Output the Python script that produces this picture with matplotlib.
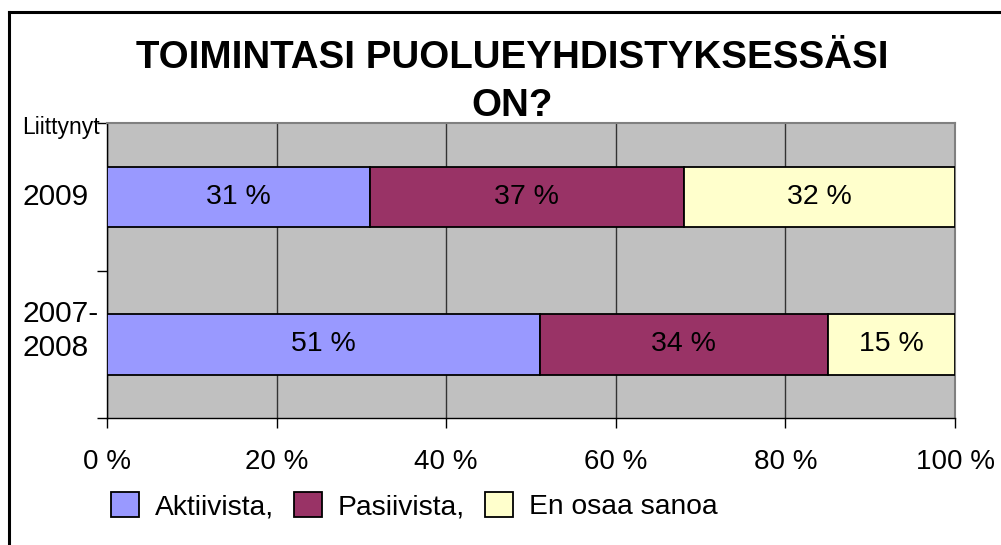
import matplotlib
matplotlib.use("Agg")
import matplotlib.pyplot as plt
from matplotlib.lines import Line2D
from matplotlib.transforms import blended_transform_factory

# Data (bottom category first)
categories = ["2007-\n2008", "2009"]
series_names = ["Aktiivista,", "Pasiivista,", "En osaa sanoa"]
aktiivista = [51, 31]
pasiivista = [34, 37]
en_osaa = [15, 32]
xticks = [0, 20, 40, 60, 80, 100]

COLORS = ["#9999ff", "#993366", "#ffffcc"]

plt.rcParams.update({
    "font.family": ["Liberation Sans", "DejaVu Sans"],
    "font.size": 20,
})

fig = plt.figure(figsize=(10.01, 5.45), dpi=100)
ax = fig.add_axes([0.1069, 0.233, 0.8472, 0.5413])
ax.set_facecolor("#c0c0c0")

y = list(range(len(categories)))
left = [0] * len(categories)
for vals, col, name in zip([aktiivista, pasiivista, en_osaa], COLORS, series_names):
    bars = ax.barh(y, vals, left=left, height=0.41, color=col, edgecolor="black",
                   linewidth=1.3, label=name, zorder=3)
    ax.bar_label(bars, labels=[f"{v} %" for v in vals], label_type="center",
                 fontsize=20.5, color="black")
    left = [l + v for l, v in zip(left, vals)]

ax.set_xlim(0, 100)
ax.set_ylim(-0.5, len(categories) - 0.5)
ax.set_xticks(xticks)
ax.set_xticklabels([f"{t} %" for t in xticks])
ax.tick_params(axis="x", direction="out", length=7, width=1, pad=15, labelsize=20)
ax.set_yticks([-0.5, 0.5, 1.5])
ax.set_yticklabels([])
ax.tick_params(axis="y", direction="out", length=7, width=1)

ax.grid(axis="x", color="#333333", linewidth=1.0, zorder=1)
ax.grid(axis="y", visible=False)
ax.set_axisbelow(True)
for s in ["top", "right"]:
    ax.spines[s].set_color("#808080")
    ax.spines[s].set_linewidth(1.5)
for s in ["left", "bottom"]:
    ax.spines[s].set_color("black")
    ax.spines[s].set_linewidth(1.0)

# category labels, left aligned
tr = blended_transform_factory(fig.transFigure, ax.transData)
offsets = [0.09, 0.0]
for yi, cat, off in zip(y, categories, offsets):
    ax.text(22 / 1001, yi + off, cat, transform=tr, ha="left", va="center",
            fontsize=21.5, linespacing=1.25)

fig.text(22 / 1001, 1 - 134 / 545, "Liittynyt", fontsize=16.5, ha="left", va="baseline")

# title
fig.text(512 / 1001, 1 - 68 / 545, "TOIMINTASI PUOLUEYHDISTYKSESSÄSI",
         fontsize=27.7, fontweight="bold", ha="center", va="baseline")
fig.text(512 / 1001, 1 - 116 / 545, "ON?",
         fontsize=27.7, fontweight="bold", ha="center", va="baseline")

# legend
fig.legend(loc="center left", bbox_to_anchor=(111 / 1001, 1 - 506 / 545), ncol=3,
           frameon=False, fontsize=20.3, handlelength=1.0, handleheight=1.0,
           handletextpad=0.55, columnspacing=0.72, borderpad=0, borderaxespad=0)

# outer frame (left and top edges)
fig.add_artist(Line2D([8.5 / 1001, 8.5 / 1001], [0, 1 - 12 / 545], color="black",
                      linewidth=2.2, transform=fig.transFigure))
fig.add_artist(Line2D([8.5 / 1001, 1], [1 - 12 / 545, 1 - 12 / 545], color="black",
                      linewidth=2.2, transform=fig.transFigure))

fig.savefig("out.png", dpi=100)
